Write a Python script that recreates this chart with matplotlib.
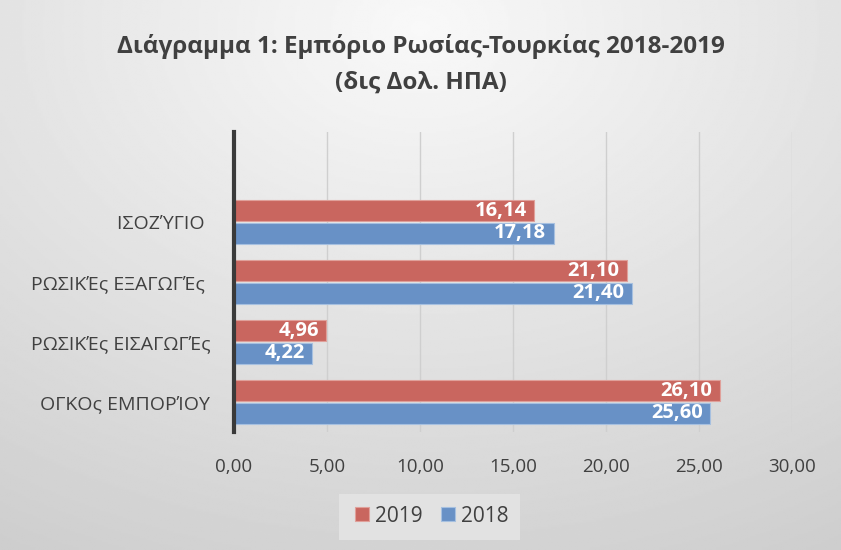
import numpy as np
import matplotlib
matplotlib.use("Agg")
import matplotlib.pyplot as plt
from matplotlib.patches import Rectangle

plt.rcParams['font.family'] = ['Open Sans', 'DejaVu Sans']

# δεδομένα
categories = ['ΟΓΚΟς ΕΜΠΟΡΊΟΥ', 'ΡΩΣΙΚΈς ΕΙΣΑΓΩΓΈς', 'ΡΩΣΙΚΈς ΕΞΑΓΩΓΈς ', 'ΙΣΟΖΎΓΙΟ ', '']
vals_2019 = [26.10, 4.96, 21.10, 16.14]
vals_2018 = [25.60, 4.22, 21.40, 17.18]
xticks = [0, 5, 10, 15, 20, 25, 30]

red = '#C9665F'
blue = '#6891C6'

fig = plt.figure(figsize=(8.41, 5.5), dpi=100)

# φόντο με διαβάθμιση
bg = fig.add_axes([0, 0, 1, 1], zorder=-1)
yy, xx = np.mgrid[0:1:300j, 0:1:400j]
r = np.sqrt(((xx - 0.5) * 1.1) ** 2 + (yy - 0.05) ** 2)
grad = 0.975 - 0.17 * np.clip(r / 1.1, 0, 1)
bg.imshow(grad, cmap='gray', vmin=0, vmax=1, aspect='auto', extent=[0, 1, 1, 0])
bg.axis('off')
# πλαίσιο υπομνήματος
bg.add_patch(Rectangle((339 / 841, 494 / 550), 181 / 841, 46 / 550,
                       facecolor='#E2E2E2', edgecolor='none', zorder=2))

ax = fig.add_axes([0.278, 0.2145, 0.664, 0.5455])
ax.set_facecolor('none')

y = np.arange(len(vals_2019))
h = 0.34
off = 0.19
b19 = ax.barh(y + off, vals_2019, height=h, color=red, edgecolor='#E0A09A', linewidth=0.8, zorder=3)
b18 = ax.barh(y - off, vals_2018, height=h, color=blue, edgecolor='#A6C0E0', linewidth=0.8, zorder=3)

for bars, vals in [(b19, vals_2019), (b18, vals_2018)]:
    for b, v in zip(bars, vals):
        ax.text(v - 0.4, b.get_y() + b.get_height() / 2, f'{v:.2f}'.replace('.', ','),
                ha='right', va='center', color='white', fontsize=14.5,
                fontweight='bold', zorder=4)

ax.set_xlim(0, 30)
ax.set_ylim(-0.5, len(categories) - 0.5)
ax.set_yticks(range(len(categories)))
ax.set_yticklabels(categories, fontsize=14, color='#404040')
ax.set_xticks(xticks)
ax.set_xticklabels([f'{t:.2f}'.replace('.', ',') for t in xticks], fontsize=13.5, color='#404040')
ax.tick_params(axis='both', length=0)
ax.tick_params(axis='x', pad=19)
ax.tick_params(axis='y', pad=17)
ax.grid(axis='x', color='#CFCFCF', linewidth=1, zorder=0)
for s in ['top', 'right', 'bottom']:
    ax.spines[s].set_visible(False)
ax.spines['left'].set_color('#3A3A3A')
ax.spines['left'].set_linewidth(3)
ax.spines['left'].set_zorder(5)

fig.text(0.50, 0.915, 'Διάγραμμα 1: Εμπόριο Ρωσίας-Τουρκίας 2018-2019', ha='center', va='center',
         fontsize=17.5, fontweight='bold', color='#404040')
fig.text(0.50, 0.85, '(δις Δολ. ΗΠΑ)', ha='center', va='center',
         fontsize=17.5, fontweight='bold', color='#404040')

leg = fig.legend([b19, b18], ['2019', '2018'], loc='center', bbox_to_anchor=(432 / 841, 1 - 516 / 550),
                 ncol=2, fontsize=15, frameon=False, handlelength=0.67, handleheight=0.67,
                 handletextpad=0.28, columnspacing=0.9, borderpad=0.2)
for t in leg.get_texts():
    t.set_color('#404040')

fig.savefig('out.png', dpi=100)
